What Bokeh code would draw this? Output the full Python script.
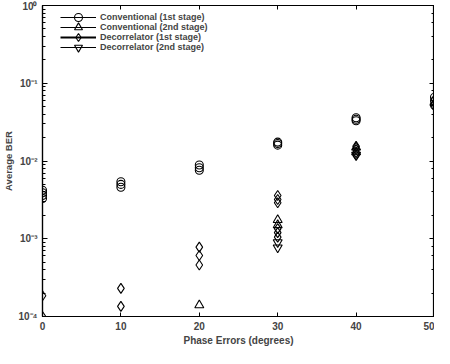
from bokeh.plotting import figure
from bokeh.models import (LinearAxis, LogAxis, Legend, LegendItem, CustomJSTickFormatter,
                          FixedTicker, Range1d)
from bokeh.embed import file_html
from bokeh.resources import INLINE

# ---------------- data ----------------
phase_ticks = [0, 10, 20, 30, 40, 50]

conv1_x = [0, 0, 0, 0, 10, 10, 10, 20, 20, 20, 30, 30, 30, 40, 40, 40, 50, 50, 50]
conv1_y = [3.3e-3, 3.6e-3, 3.9e-3, 4.2e-3, 4.6e-3, 5.0e-3, 5.4e-3,
           7.6e-3, 8.2e-3, 8.9e-3, 1.6e-2, 1.68e-2, 1.75e-2,
           3.3e-2, 3.45e-2, 3.6e-2, 5.2e-2, 5.9e-2, 6.6e-2]

conv2_x = [20, 30, 30, 40, 40, 50]
conv2_y = [1.4e-4, 1.75e-3, 1.5e-3, 1.5e-2, 1.3e-2, 5.6e-2]

dec1_x = [0, 0, 10, 10, 20, 20, 20, 30, 30, 30, 30, 30, 30, 40, 40, 40, 40, 50, 50]
dec1_y = [1.85e-4, 1.0e-4, 2.3e-4, 1.35e-4, 7.8e-4, 6.1e-4, 4.6e-4,
          3.6e-3, 3.2e-3, 2.9e-3, 1.35e-3, 1.2e-3, 1.05e-3,
          1.55e-2, 1.4e-2, 1.28e-2, 1.18e-2, 5.5e-2, 6.2e-2]

dec2_x = [30, 30, 40, 50]
dec2_y = [9.0e-4, 7.7e-4, 1.2e-2, 5.0e-2]

labels = ["Conventional (1st stage)", "Conventional (2nd stage)",
          "Decorrelator (1st stage)", "Decorrelator (2nd stage)"]

FONT = "Liberation Sans"
FRAME_H = 348 - 5 - 32

p = figure(width=434, height=348, output_backend="svg", toolbar_location=None,
           y_axis_type="log", x_range=Range1d(0, 50), y_range=Range1d(1e-4, 1),
           min_border_left=40, min_border_right=0, min_border_top=5, min_border_bottom=32)
p.grid.visible = False
p.outline_line_color = "black"
p.outline_line_width = 1.2
p.background_fill_color = "white"
p.border_fill_color = "white"

xa = p.xaxis[0]
xa.ticker = FixedTicker(ticks=phase_ticks)
xa.major_tick_in = 4
xa.major_tick_out = 0
xa.minor_tick_in = 0
xa.minor_tick_out = 0
xa.axis_line_width = 1.2
xa.axis_label = "Phase Errors (degrees)"
xa.axis_label_text_font = FONT
xa.axis_label_text_font_size = "10px"
xa.axis_label_text_font_style = "bold"
xa.axis_label_standoff = 2
xa.major_label_text_font = FONT
xa.major_label_text_font_size = "10px"
xa.major_label_text_font_style = "bold"
xa.major_label_standoff = 5

ya = p.yaxis[0]
ya.formatter = CustomJSTickFormatter(code="""
const sup = {'-':'\u207b','0':'\u2070','1':'\u00b9','2':'\u00b2','3':'\u00b3','4':'\u2074',
             '5':'\u2075','6':'\u2076','7':'\u2077','8':'\u2078','9':'\u2079'};
const e = Math.round(Math.log10(tick));
return '10' + String(e).split('').map(c => sup[c]).join('');
""")
ya.major_tick_in = 5
ya.major_tick_out = 0
ya.minor_tick_in = 3
ya.minor_tick_out = 0
ya.axis_line_width = 1.2
ya.axis_label = "Average BER"
ya.axis_label_text_font = FONT
ya.axis_label_text_font_size = "9.5px"
ya.axis_label_text_font_style = "bold"
ya.axis_label_standoff = 1
ya.major_label_text_font = FONT
ya.major_label_text_font_size = "10px"
ya.major_label_text_font_style = "bold"
ya.major_label_standoff = 5

top = LinearAxis(ticker=FixedTicker(ticks=phase_ticks), major_label_text_font_size="1px",
                 major_label_text_alpha=0, major_label_standoff=0,
                 major_tick_in=4, major_tick_out=0,
                 minor_tick_in=0, minor_tick_out=0, axis_line_width=1.2)
p.add_layout(top, "above")
right = LogAxis(major_label_text_font_size="1px", major_label_text_alpha=0,
                major_label_standoff=0,
                major_tick_in=5, major_tick_out=0, minor_tick_in=3, minor_tick_out=0,
                axis_line_width=1.2)
p.add_layout(right, "right")

r1 = p.scatter(conv1_x, conv1_y, marker="circle", size=8, fill_color=None,
               line_color="black", line_width=1.1)
r2 = p.scatter(conv2_x, conv2_y, marker="triangle", size=9, fill_color=None,
               line_color="black", line_width=1.1)
r3 = p.scatter(dec1_x, dec1_y, marker="diamond", size=10, fill_color=None,
               line_color="black", line_width=1.1)
r4 = p.scatter(dec2_x, dec2_y, marker="inverted_triangle", size=9, fill_color=None,
               line_color="black", line_width=1.1)

l1 = p.line([0], [1e-5], line_color="black", line_width=1.2)
l2 = p.line([0], [1e-5], line_color="black", line_width=1.0)
l3 = p.line([0], [1e-5], line_color="black", line_width=2.0)
l4 = p.line([0], [1e-5], line_color="black", line_width=1.0)

# one single-row legend per entry, so rows can sit 10 px apart with full-size markers
row_offsets = [12, 22, 32, 42]   # row centre, px below the top of the frame
for lab, rend, off in zip(labels, [(l1, r1), (l2, r2), (l3, r3), (l4, r4)], row_offsets):
    lg = Legend(items=[LegendItem(label=lab, renderers=list(rend))],
                location=(18, FRAME_H - off - 10), margin=0, padding=0, spacing=0,
                glyph_width=36, glyph_height=20, label_height=20, label_standoff=4,
                label_text_font=FONT, label_text_font_size="9px",
                label_text_font_style="bold", border_line_alpha=0,
                background_fill_alpha=0)
    p.add_layout(lg, "center")

open("out.html", "w").write(file_html(p, INLINE))
